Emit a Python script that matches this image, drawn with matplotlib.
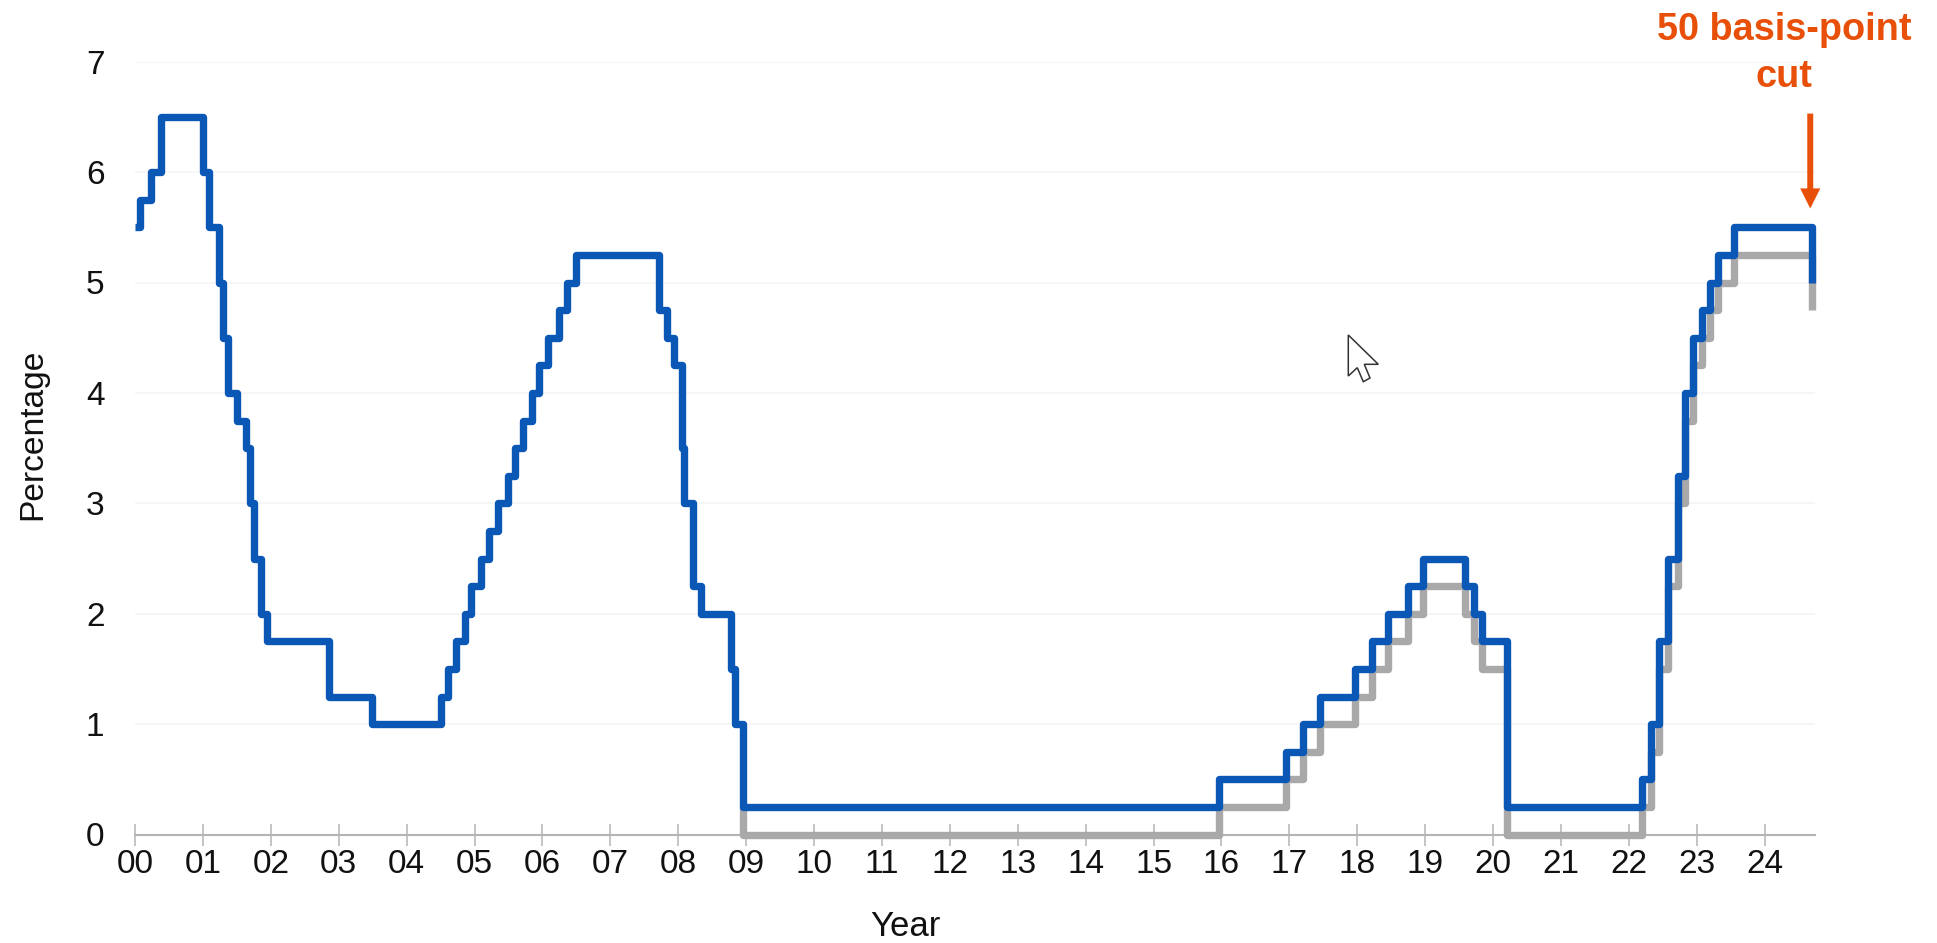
import matplotlib
matplotlib.use("Agg")
import matplotlib.pyplot as plt
from matplotlib.patches import Polygon

plt.rcParams["font.family"] = ["Liberation Sans", "DejaVu Sans"]

# Upper bound of the target range: date of each change (years since 2000) and new level
upper_years = [0.0, 0.08, 0.23, 0.38, 1.0, 1.09, 1.24, 1.30, 1.37, 1.5, 1.63, 1.70, 1.75, 1.855, 1.95,
               2.85, 3.49, 4.5, 4.61, 4.72, 4.86, 4.95, 5.09, 5.22, 5.34, 5.5, 5.6, 5.72, 5.84, 5.95,
               6.08, 6.24, 6.36, 6.49, 7.71, 7.83, 7.94, 8.06, 8.08, 8.21, 8.33, 8.77, 8.83, 8.96,
               15.96, 16.95, 17.2, 17.45, 17.96, 18.22, 18.45, 18.74, 18.97, 19.58, 19.72, 19.83, 20.2,
               22.19, 22.33, 22.45, 22.57, 22.72, 22.82, 22.94, 23.07, 23.2, 23.31, 23.55, 24.69]
upper_rate = [5.5, 5.75, 6.0, 6.5, 6.0, 5.5, 5.0, 4.5, 4.0, 3.75, 3.5, 3.0, 2.5, 2.0, 1.75,
              1.25, 1.0, 1.25, 1.5, 1.75, 2.0, 2.25, 2.5, 2.75, 3.0, 3.25, 3.5, 3.75, 4.0, 4.25,
              4.5, 4.75, 5.0, 5.25, 4.75, 4.5, 4.25, 3.5, 3.0, 2.25, 2.0, 1.5, 1.0, 0.25,
              0.5, 0.75, 1.0, 1.25, 1.5, 1.75, 2.0, 2.25, 2.5, 2.25, 2.0, 1.75, 0.25,
              0.5, 1.0, 1.75, 2.5, 3.25, 4.0, 4.5, 4.75, 5.0, 5.25, 5.5, 5.0]

# Lower bound, only published once the target became a range
lower_years = [8.96, 15.96, 16.95, 17.2, 17.45, 17.96, 18.22, 18.45, 18.74, 18.97, 19.58, 19.72, 19.83, 20.2,
               22.19, 22.33, 22.45, 22.57, 22.72, 22.82, 22.94, 23.07, 23.2, 23.31, 23.55, 24.69]
lower_rate = [0.0, 0.25, 0.5, 0.75, 1.0, 1.25, 1.5, 1.75, 2.0, 2.25, 2.0, 1.75, 1.5, 0.0,
              0.25, 0.75, 1.5, 2.25, 3.0, 3.75, 4.25, 4.5, 4.75, 5.0, 5.25, 4.75]
lower_start_year = 8.96
lower_start_rate = 0.25

year_ticks = list(range(25))
year_labels = [f"{y:02d}" for y in year_ticks]
rate_ticks = list(range(8))

W, H = 1937, 943
fig = plt.figure(figsize=(W / 100, H / 100), dpi=100)
ax = fig.add_axes([135 / W, 1 - 834.5 / H, 1680 / W, 772.8 / H])
ax.set_xlim(0, 24.74)
ax.set_ylim(0, 7)

ax.grid(axis="y", color="#f6f6f6", linewidth=1.4)
ax.set_axisbelow(True)

# Grey first so the blue line sits on top
ax.step([lower_start_year] + lower_years, [lower_start_rate] + lower_rate, where="post",
        color="#a9a9a9", linewidth=5.3, clip_on=False, solid_joinstyle="round", solid_capstyle="butt", zorder=3)
ax.step(upper_years, upper_rate, where="post",
        color="#0b57b5", linewidth=5.3, clip_on=False, solid_joinstyle="round", solid_capstyle="butt", zorder=4)

for side in ["top", "right", "left"]:
    ax.spines[side].set_visible(False)
ax.spines["bottom"].set_color("#b4b4b4")
ax.spines["bottom"].set_linewidth(1.5)

ax.set_xticks(year_ticks, year_labels)
ax.set_yticks(rate_ticks)
ax.tick_params(axis="x", direction="inout", length=16, width=1.1, color="#b4b4b4", labelsize=24, pad=2.5,
               labelcolor="#111111")
ax.tick_params(axis="y", length=0, labelsize=24, pad=22, labelcolor="#111111")

fig.text(905 / W, 1 - 927 / H, "Year", ha="center", va="center", fontsize=25, color="#111111")
fig.text(33 / W, 1 - 434 / H, "Percentage", ha="center", va="center", rotation=90, fontsize=24.2, color="#111111")

# Annotation over the last move
orange = "#e8500a"
fig.text(1784 / W, 1 - 53.5 / H, "50 basis-point\ncut", ha="center", va="center", fontsize=27.3,
         fontweight="bold", color=orange, linespacing=1.39)
ax.annotate("", xy=(24.67, 5.67), xytext=(24.67, 6.53), annotation_clip=False,
            arrowprops=dict(width=4.3, headwidth=14.5, headlength=14.5, shrink=0, facecolor=orange,
                            edgecolor="none"))

# Mouse pointer left on the screen capture
pointer_px = [(1348.3, 335), (1348.3, 376), (1357.3, 367.7), (1363.3, 381.7),
              (1370, 378), (1364.3, 364.3), (1378.3, 364.3)]
fig.add_artist(Polygon([(x / W, 1 - y / H) for x, y in pointer_px], closed=True, transform=fig.transFigure,
                       facecolor="white", edgecolor="#333333", linewidth=1.1, zorder=6))

plt.savefig("out.png", dpi=100, facecolor="white")
